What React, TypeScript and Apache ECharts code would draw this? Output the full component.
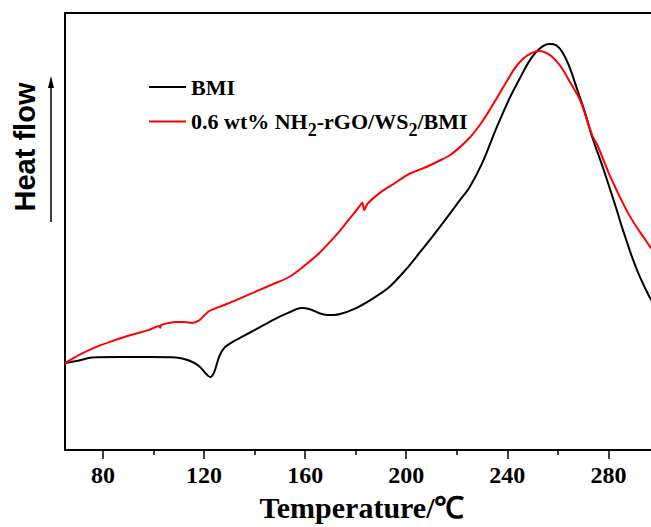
import React, { useEffect, useRef } from "react";
import * as echarts from "echarts";

// Temperature (°C) and heat flow (a.u., 0 = bottom of frame, 100 = top of frame)
const bmiTemperature = [65.0, 70.6, 75.7, 86.4, 98.3, 109.0, 114.1, 118.1, 120.9, 122.4, 124.0, 126.0, 128.0, 131.2, 135.9, 141.8, 147.0, 153.7, 158.5, 161.6, 165.6, 168.8, 173.5, 179.5, 186.6, 193.3, 200.0, 205.2, 210.3, 214.3, 221.0, 225.0, 230.1, 235.7, 240.8, 244.8, 248.7, 252.7, 256.6, 259.4, 261.8, 264.6, 267.3, 270.5, 273.7, 277.6, 280.4, 283.2, 285.2, 287.5, 289.5, 292.3, 296.2, 298.6];
const bmiHeatFlow = [19.9, 20.5, 21.2, 21.3, 21.3, 21.2, 20.5, 19.2, 17.4, 16.7, 17.8, 21.4, 23.4, 24.7, 26.2, 28.0, 29.7, 31.5, 32.5, 32.3, 31.3, 30.9, 31.1, 32.3, 34.6, 37.3, 41.4, 45.1, 48.8, 51.8, 57.0, 60.1, 65.7, 73.7, 80.4, 84.9, 89.0, 91.8, 92.9, 92.6, 91.0, 87.6, 83.1, 77.6, 71.4, 65.0, 60.1, 55.1, 51.3, 47.3, 43.9, 39.8, 35.1, 32.9];

const compTemperature = [65.0, 70.6, 76.5, 82.5, 90.4, 98.3, 102.3, 102.7, 103.0, 106.2, 109.0, 112.1, 115.3, 118.1, 120.1, 122.0, 128.0, 133.9, 141.8, 147.0, 153.7, 160.4, 165.6, 173.5, 177.5, 181.4, 182.6, 183.4, 184.6, 189.4, 195.3, 200.0, 202.4, 207.2, 213.1, 217.1, 221.0, 225.0, 228.9, 231.7, 235.7, 239.6, 242.8, 246.0, 249.5, 252.7, 256.6, 259.4, 261.8, 264.6, 268.9, 273.7, 275.6, 280.4, 283.2, 287.5, 291.5, 294.3, 296.2, 298.6];
const compHeatFlow = [19.9, 21.8, 23.4, 24.7, 26.2, 27.5, 28.4, 28.0, 28.6, 29.1, 29.3, 29.3, 29.1, 29.7, 30.8, 31.8, 33.2, 34.6, 36.6, 37.9, 39.6, 42.5, 45.1, 50.0, 52.9, 55.7, 56.6, 54.9, 56.3, 58.8, 61.0, 62.8, 63.5, 64.6, 66.2, 67.4, 69.2, 71.4, 74.2, 76.6, 80.4, 84.2, 87.2, 89.4, 90.8, 91.3, 90.5, 89.0, 87.2, 84.4, 79.9, 71.8, 69.8, 63.0, 59.5, 54.5, 50.7, 48.4, 46.7, 45.1];

const majorTicks = [80, 120, 160, 200, 240, 280];
const minorTicks = [100, 140, 180, 220, 260];

const seriesNames = ["BMI", "0.6 wt% NH2-rGO/WS2/BMI"];
const legendRich = ["BMI", "0.6 wt% NH{sub|2}-rGO/WS{sub|2}/BMI"];

const xAxisTitle = "Temperature/℃";
const yAxisTitle = "Heat flow";

const SERIF = "'Liberation Serif', 'Times New Roman', serif";
const SANS = "'Liberation Sans', Arial, sans-serif";

export default function App() {
  const ref = useRef<HTMLDivElement>(null);

  useEffect(() => {
    if (!ref.current) return;
    const chart = echarts.init(ref.current, undefined, { renderer: "svg" });
    const xMin = 65;
    const xMax = 300;
    chart.setOption({
      animation: false,
      backgroundColor: "#ffffff",
      grid: {
        left: 65,
        top: 13,
        bottom: 70,
        right: 0,
        show: true,
        borderColor: "#000",
        borderWidth: 2,
        backgroundColor: "transparent",
      },
      legend: {
        orient: "vertical",
        left: 149,
        top: 76,
        padding: 0,
        itemGap: 6,
        icon: "rect",
        itemWidth: 37,
        itemHeight: 2,
        data: seriesNames,
        formatter: (name: string) => legendRich[seriesNames.indexOf(name)],
        textStyle: {
          fontFamily: SERIF,
          fontWeight: "bold",
          fontSize: 22,
          lineHeight: 22,
          color: "#000",
          rich: {
            sub: {
              fontFamily: SERIF,
              fontWeight: "bold",
              fontSize: 18,
              lineHeight: 18,
              color: "#000",
              padding: [17, 0, 0, 0],
            },
          },
        },
      },
      xAxis: [
        {
          type: "value",
          min: xMin,
          max: xMax,
          position: "bottom",
          name: xAxisTitle,
          nameLocation: "middle",
          nameGap: 41,
          nameTextStyle: {
            fontFamily: SERIF,
            fontWeight: "bold",
            fontSize: 30,
            color: "#000",
          },
          axisLine: { show: true, lineStyle: { color: "#000", width: 2 } },
          axisTick: {
            show: true,
            inside: false,
            length: 9,
            customValues: majorTicks,
            lineStyle: { color: "#000", width: 1.5 },
          },
          axisLabel: {
            show: true,
            customValues: majorTicks,
            margin: 13,
            fontFamily: SERIF,
            fontWeight: "bold",
            fontSize: 24,
            color: "#000",
          },
          splitLine: { show: false },
        },
        {
          type: "value",
          min: xMin,
          max: xMax,
          position: "bottom",
          axisLine: { show: false },
          axisTick: {
            show: true,
            inside: false,
            length: 5,
            customValues: minorTicks,
            lineStyle: { color: "#000", width: 1.5 },
          },
          axisLabel: { show: false },
          splitLine: { show: false },
        },
      ],
      yAxis: {
        type: "value",
        min: 0,
        max: 100,
        show: false,
        splitLine: { show: false },
      },
      series: [
        {
          name: seriesNames[0],
          type: "line",
          xAxisIndex: 0,
          symbol: "none",
          smooth: 0.3,
          color: "#000000",
          lineStyle: { color: "#000000", width: 2 },
          data: bmiTemperature.map((t, i) => [t, bmiHeatFlow[i]]),
        },
        {
          name: seriesNames[1],
          type: "line",
          xAxisIndex: 0,
          symbol: "none",
          smooth: 0.3,
          color: "#ff0000",
          lineStyle: { color: "#ff0000", width: 2 },
          data: compTemperature.map((t, i) => [t, compHeatFlow[i]]),
        },
      ],
      graphic: [
        {
          type: "text",
          x: 25,
          y: 147,
          rotation: Math.PI / 2,
          style: {
            text: yAxisTitle,
            fontFamily: SANS,
            fontWeight: "bold",
            fontSize: 29,
            fill: "#000",
            textAlign: "center",
            textVerticalAlign: "middle",
          },
        },
        {
          type: "line",
          shape: { x1: 51, y1: 222, x2: 51, y2: 84 },
          style: { stroke: "#000", lineWidth: 1.5 },
        },
        {
          type: "polygon",
          shape: { points: [[51, 76], [48, 88], [54, 88]] },
          style: { fill: "#000" },
        },
      ],
    });
    return () => chart.dispose();
  }, []);

  return (
    <div
      style={{
        position: "absolute",
        left: 0,
        top: 0,
        width: 651,
        height: 527,
        overflow: "hidden",
        background: "#fff",
      }}
    >
      <div ref={ref} style={{ width: 659, height: 527 }} />
    </div>
  );
}
